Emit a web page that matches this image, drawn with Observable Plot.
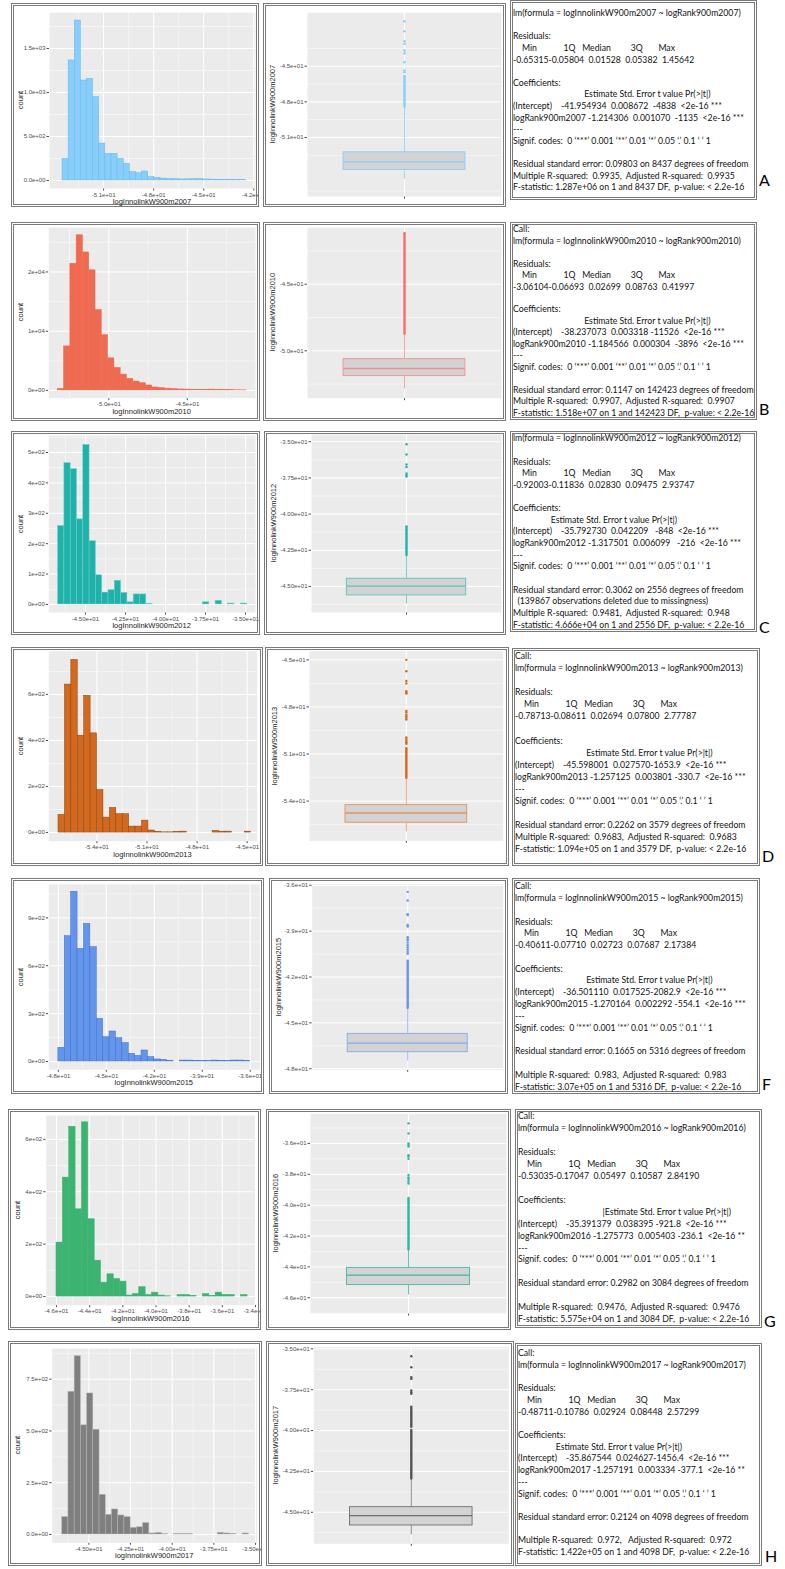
<!DOCTYPE html>
<html><head><meta charset="utf-8">
<script src="https://cdn.jsdelivr.net/npm/d3@7"></script>
<script src="https://cdn.jsdelivr.net/npm/@observablehq/plot@0.6"></script>
<style>
body{margin:0;background:#fff;}
#page{position:relative;width:785px;height:1569px;overflow:hidden;background:#fff;font-family:"Liberation Sans",Arial,sans-serif;}
.clip{position:absolute;overflow:hidden;}
.frame{position:absolute;border:3px double #7a7a7a;box-sizing:border-box;pointer-events:none;}
.reg{position:absolute;box-sizing:border-box;border:3px double #7a7a7a;}
.txt{position:absolute;left:0px;font-family:Lato,"Open Sans",sans-serif;white-space:pre;color:#111;}
.letter{position:absolute;font-family:Lato,"Open Sans",sans-serif;font-size:16px;line-height:16px;color:#000;}
.ttl{position:absolute;font-size:7.5px;color:#222;white-space:nowrap;line-height:8px;}
</style></head><body><div id="page"></div>
<script>
// ---------------- DATA ----------------
const years = ["2007", "2010", "2012", "2013", "2015", "2016", "2017"];
const panelLetters = ["A", "B", "C", "D", "F", "G", "H"];

// histogram counts (30 bins each)
const histCounts2007 = [246, 1364, 1818, 1136, 1155, 947, 420, 303, 303, 246, 190, 95, 83, 102, 38, 30, 22, 18, 15, 12, 14, 15, 18, 12, 10, 8, 6, 8, 6, 5];
const histCounts2010 = [280, 7430, 21400, 26200, 23300, 20280, 13575, 9330, 5420, 3800, 2680, 1955, 1500, 1230, 840, 500, 400, 300, 220, 170, 150, 120, 100, 90, 150, 80, 60, 40, 30, 20];
const histCounts2012 = [258, 465, 445, 280, 525, 208, 96, 39, 47, 78, 38, 7, 33, 33, 2, 0, 0, 0, 0, 0, 0, 0, 0, 7, 0, 12, 0, 3, 0, 3];
const histCounts2013 = [77, 643, 750, 421, 594, 431, 185, 65, 107, 80, 80, 26, 26, 52, 9, 3, 1, 1, 3, 4, 0, 0, 0, 0, 7, 4, 4, 0, 0, 4];
const histCounts2015 = [86, 785, 1063, 706, 862, 716, 267, 152, 188, 146, 115, 48, 35, 69, 27, 13, 10, 4, 0, 6, 6, 4, 2, 2, 6, 4, 2, 6, 6, 4];
const histCounts2016 = [206, 454, 648, 333, 665, 295, 137, 53, 85, 67, 57, 4, 10, 36, 6, 15, 4, 1, 0, 6, 6, 3, 0, 9, 3, 15, 6, 6, 0, 6];
const histCounts2017 = [84, 689, 861, 527, 681, 506, 192, 95, 121, 92, 84, 32, 35, 55, 5, 8, 2, 0, 3, 3, 3, 0, 0, 0, 0, 8, 5, 3, 0, 5];

// first bin start and last bin end (value of logInnolinkW900m)
const histBinRange2007 = [-53.46, -42.46];
const histBinRange2010 = [-53.25, -41.23];
const histBinRange2012 = [-46.71, -34.90];
const histBinRange2013 = [-56.30, -44.76];
const histBinRange2015 = [-48.00, -36.00];
const histBinRange2016 = [-46.00, -34.48];
const histBinRange2017 = [-46.60, -35.40];

// histogram axis domains and ticks
const histXDomain = [[-54.24, -41.9], [-53.82, -40.66], [-47.29, -34.375], [-56.88, -44.4], [-48.6, -35.4], [-46.62, -34.0], [-47.2, -34.9]];
const histYDomain = [[-91, 1909], [-1310, 27510], [-26.5, 556], [-37.5, 788], [-52, 1111], [-33, 691], [-40, 898]];
const histXTicks = [[-51, -48, -45, -42], [-50, -45], [-45, -42.5, -40, -37.5, -35], [-54, -51, -48, -45], [-48, -45, -42, -39, -36], [-46, -44, -42, -40, -38, -36, -34], [-45, -42.5, -40, -37.5, -35]];
const histXDigits = [1, 1, 2, 1, 1, 1, 2];
const histYTicks = [[0, 500, 1000, 1500], [0, 10000, 20000], [0, 100, 200, 300, 400, 500], [0, 200, 400, 600], [0, 300, 600, 900], [0, 200, 400, 600], [0, 250, 500, 750]];
const histYDigits = [1, 0, 0, 0, 0, 0, 1];

// boxplot stats: [lower whisker, Q1, median, Q3, upper whisker]
const boxStats2007 = [-54.53, -53.73, -53.05, -52.24, -48.45];
const boxStats2010 = [-52.88, -51.90, -51.33, -50.63, -48.75];
const boxStats2012 = [-46.20, -45.62, -44.98, -44.47, -42.86];
const boxStats2013 = [-55.95, -55.38, -54.76, -54.26, -52.55];
const boxStats2015 = [-47.50, -46.92, -46.33, -45.72, -44.05];
const boxStats2016 = [-45.83, -45.18, -44.53, -44.06, -42.90];
const boxStats2017 = [-46.38, -45.81, -45.20, -44.69, -42.96];

// individual outliers
const outliers2007 = [-45.5, -45.36, -44.66, -43.91, -43.68, -43.12, -42.9, -42.06, -41.21];
const outliers2010 = [-41.2];
const outliers2012 = [-37.4, -37.3, -37.2, -36.75, -36.57, -35.88, -35.17];
const outliers2013 = [-50.35, -50.25, -50.15, -50.05, -49.95, -48.8, -48.7, -48.6, -48.5, -48.35, -48.25, -47.15, -47.1, -47.0, -46.5, -46.35, -45.73, -45.0];
const outliers2015 = [-40.48, -40.35, -40.2, -40.05, -39.9, -39.75, -39.6, -39.5, -39.4, -38.7, -38.6, -37.95, -37.9, -37.0, -36.43];
const outliers2016 = [-38.6, -38.45, -38.3, -38.2, -38.05, -37.0, -36.85, -36.76, -36.2, -36.1, -36.0, -35.35, -34.7];
const outliers2017 = [-37.75, -37.65, -37.55, -36.84, -36.74, -36.13, -35.45];
// runs of outliers so dense that they overlap into a column: [from, to]
const denseOutliers2007 = [[-48.45, -45.85]];
const denseOutliers2010 = [[-48.75, -41.2]];
const denseOutliers2012 = [[-42.86, -40.88]];
const denseOutliers2013 = [[-52.55, -50.66]];
const denseOutliers2015 = [[-44.05, -40.97]];
const denseOutliers2016 = [[-42.9, -39.56]];
const denseOutliers2017 = [[-42.96, -40.0], [-39.8, -38.57]];

const boxYDomain = [[-55.96, -40.48], [-53.56, -40.74], [-46.8, -34.5], [-56.53, -44.45], [-48.07, -35.93], [-47.02, -34.08], [-46.93, -34.9]];
const boxYTicks = [[-51, -48, -45], [-50, -45], [-45, -42.5, -40, -37.5, -35], [-54, -51, -48, -45], [-48, -45, -42, -39, -36], [-46, -44, -42, -40, -38, -36], [-45, -42.5, -40, -37.5, -35]];
const boxYDigits = [1, 1, 2, 1, 1, 1, 2];

// regression summaries
const sig = "Signif. codes:  0 ‘***’ 0.001 ‘**’ 0.01 ‘*’ 0.05 ‘.’ 0.1 ‘ ’ 1";
const resHead = "    Min            1Q   Median         3Q       Max";
const regText2007 = ["lm(formula = logInnolinkW900m2007 ~ logRank900m2007)", "", "Residuals:", resHead, "-0.65315-0.05804  0.01528  0.05382  1.45642", "", "Coefficients:", "                                Estimate Std. Error t value Pr(>|t|)", "(Intercept)    -41.954934  0.008672  -4838  <2e-16 ***", "logRank900m2007 -1.214306  0.001070  -1135  <2e-16 ***", "---", sig, "", "Residual standard error: 0.09803 on 8437 degrees of freedom", "Multiple R-squared:  0.9935,  Adjusted R-squared:  0.9935", "F-statistic: 1.287e+06 on 1 and 8437 DF,  p-value: < 2.2e-16"];
const regText2010 = ["Call:", "lm(formula = logInnolinkW900m2010 ~ logRank900m2010)", "", "Residuals:", resHead, "-3.06104-0.06693  0.02699  0.08763  0.41997", "", "Coefficients:", "                                Estimate Std. Error t value Pr(>|t|)", "(Intercept)    -38.237073  0.003318 -11526  <2e-16 ***", "logRank900m2010 -1.184566  0.000304  -3896  <2e-16 ***", "---", sig, "", "Residual standard error: 0.1147 on 142423 degrees of freedom", "Multiple R-squared:  0.9907,  Adjusted R-squared:  0.9907", "F-statistic: 1.518e+07 on 1 and 142423 DF,  p-value: < 2.2e-16"];
const regText2012 = ["lm(formula = logInnolinkW900m2012 ~ logRank900m2012)", "", "Residuals:", resHead, "-0.92003-0.11836  0.02830  0.09475  2.93747", "", "Coefficients:", "                 Estimate Std. Error t value Pr(>|t|)", "(Intercept)    -35.792730  0.042209   -848  <2e-16 ***", "logRank900m2012 -1.317501  0.006099   -216  <2e-16 ***", "---", sig, "", "Residual standard error: 0.3062 on 2556 degrees of freedom", "  (139867 observations deleted due to missingness)", "Multiple R-squared:  0.9481,  Adjusted R-squared:  0.948", "F-statistic: 4.666e+04 on 1 and 2556 DF,  p-value: < 2.2e-16"];
const regText2013 = ["Call:", "lm(formula = logInnolinkW900m2013 ~ logRank900m2013)", "", "Residuals:", resHead, "-0.78713-0.08611  0.02694  0.07800  2.77787", "", "Coefficients:", "                                Estimate Std. Error t value Pr(>|t|)", "(Intercept)    -45.598001  0.027570-1653.9  <2e-16 ***", "logRank900m2013 -1.257125  0.003801 -330.7  <2e-16 ***", "---", sig, "", "Residual standard error: 0.2262 on 3579 degrees of freedom", "Multiple R-squared:  0.9683,  Adjusted R-squared:  0.9683", "F-statistic: 1.094e+05 on 1 and 3579 DF,  p-value: < 2.2e-16"];
const regText2015 = ["Call:", "lm(formula = logInnolinkW900m2015 ~ logRank900m2015)", "", "Residuals:", resHead, "-0.40611-0.07710  0.02723  0.07687  2.17384", "", "Coefficients:", "                                Estimate Std. Error t value Pr(>|t|)", "(Intercept)    -36.501110  0.017525-2082.9  <2e-16 ***", "logRank900m2015 -1.270164  0.002292 -554.1  <2e-16 ***", "---", sig, "", "Residual standard error: 0.1665 on 5316 degrees of freedom", "", "Multiple R-squared:  0.983,  Adjusted R-squared:  0.983", "F-statistic: 3.07e+05 on 1 and 5316 DF,  p-value: < 2.2e-16"];
const regText2016 = ["Call:", "lm(formula = logInnolinkW900m2016 ~ logRank900m2016)", "", "Residuals:", resHead, "-0.53035-0.17047  0.05497  0.10587  2.84190", "", "Coefficients:", "                                      |Estimate Std. Error t value Pr(>|t|)", "(Intercept)    -35.391379  0.038395 -921.8  <2e-16 ***", "logRank900m2016 -1.275773  0.005403 -236.1  <2e-16 **", "---", sig, "", "Residual standard error: 0.2982 on 3084 degrees of freedom", "", "Multiple R-squared:  0.9476,  Adjusted R-squared:  0.9476", "F-statistic: 5.575e+04 on 1 and 3084 DF,  p-value: < 2.2e-16"];
const regText2017 = ["Call:", "lm(formula = logInnolinkW900m2017 ~ logRank900m2017)", "", "Residuals:", resHead, "-0.48711-0.10786  0.02924  0.08448  2.57299", "", "Coefficients:", "                 Estimate Std. Error t value Pr(>|t|)", "(Intercept)    -35.867544  0.024627-1456.4  <2e-16 ***", "logRank900m2017 -1.257191  0.003334 -377.1  <2e-16 **", "---", sig, "", "Residual standard error: 0.2124 on 4098 degrees of freedom", "", "Multiple R-squared:  0.972,   Adjusted R-squared:  0.972", "F-statistic: 1.422e+05 on 1 and 4098 DF,  p-value: < 2.2e-16"];

// ---------------- STYLE / LAYOUT ----------------
const histFill   = ["#87CEFA", "#EE6A50", "#20B2AA", "#D2691E", "#6495ED", "#3CB371", "#7F7F7F"];
const histStroke = ["#6FB6E6", "#EE6A50", "#6FD0C6", "#8B4513", "#3E6FC4", "#3CB371", "#B5B5B5"];
const boxStroke  = ["#87CEFA", "#F29090", "#5CC4BA", "#E4925A", "#86A9EE", "#3FB8A8", "#6E6E6E"];
const dotColor   = ["#87CEFA", "#FF6A6A", "#20B2AA", "#D2691E", "#6495ED", "#2FB5A3", "#555555"];
const layout = [
  {hist:[11,3,259,207], hp:[49,12,255,188], box:[263,3,506,207], bp:[307,12,501,196], text:[510,0,757,200], letter:[759,172], lh:11.6, first:13},
  {hist:[11,222,260,421], hp:[48.3,227,255,397.7], box:[263,222,506,421], bp:[307,227,501,397.7], text:[510,222,757,420], letter:[759,401], lh:11.45, first:7},
  {hist:[11,431,260,635], hp:[48.3,435,255,612], box:[264,431,506,635], bp:[311,434,501,612], text:[510,431,757,632], letter:[759,619], lh:11.65, first:7},
  {hist:[11,647,263,866], hp:[48.3,650.7,256.7,840.7], box:[265,647,509,866], bp:[309,650.7,502.7,840.3], text:[512,648,760,866], letter:[762,848], lh:12.1, first:8},
  {hist:[11,878,264,1094], hp:[48.3,883.7,259.3,1069.3], box:[269,878,508,1094], bp:[311.7,883.7,502.7,1069.3], text:[512,878,760,1094], letter:[762,1076], lh:11.8, first:8},
  {hist:[8,1109,261,1330], hp:[45.7,1115,255,1304.7], box:[266,1109,511,1330], bp:[310,1113.3,506,1313], text:[515,1109,762,1328], letter:[764,1313], lh:11.95, first:7},
  {hist:[8,1341,262,1566], hp:[51.7,1348,256.7,1542.3], box:[266,1341,514,1566], bp:[313.3,1346.7,508.3,1543.3], text:[515,1343,762,1566], letter:[765,1548], lh:11.7, first:10}
];
const boxHalfWidth = 0.377;

// ---------------- BUILD ----------------
const histCounts = [histCounts2007, histCounts2010, histCounts2012, histCounts2013, histCounts2015, histCounts2016, histCounts2017];
const histBinRanges = [histBinRange2007, histBinRange2010, histBinRange2012, histBinRange2013, histBinRange2015, histBinRange2016, histBinRange2017];
const boxStats = [boxStats2007, boxStats2010, boxStats2012, boxStats2013, boxStats2015, boxStats2016, boxStats2017];
const outliers = [outliers2007, outliers2010, outliers2012, outliers2013, outliers2015, outliers2016, outliers2017];
const denseOutliers = [denseOutliers2007, denseOutliers2010, denseOutliers2012, denseOutliers2013, denseOutliers2015, denseOutliers2016, denseOutliers2017];
const regTexts = [regText2007, regText2010, regText2012, regText2013, regText2015, regText2016, regText2017];

const page = document.getElementById("page");

function sci(v, d) {
  const s = (+v).toExponential(d);
  const [m, e] = s.split("e");
  const sign = e[0] === "-" ? "-" : "+";
  return m + "e" + sign + e.replace(/[+-]/, "").padStart(2, "0");
}
function minors(ticks, domain) {
  const step = ticks.length > 1 ? ticks[1] - ticks[0] : 5;
  const out = [];
  const [a, b] = [Math.min(...domain), Math.max(...domain)];
  for (let v = ticks[0] - step / 2; v >= a; v -= step) out.push(v);
  for (let v = ticks[0] + step / 2; v <= b; v += step) out.push(v);
  return out;
}
const plotStyle = {fontFamily: "'Liberation Sans', Arial, sans-serif", fontSize: "6px", color: "#4D4D4D", background: "transparent", overflow: "visible"};

function place(el, x, y, w, h) {
  el.style.left = x + "px"; el.style.top = y + "px";
  if (w != null) el.style.width = w + "px";
  if (h != null) el.style.height = h + "px";
  page.appendChild(el);
  return el;
}
function addSvg(svg, rect) {
  const [x1, y1, x2, y2] = rect;
  const c = document.createElement("div");
  c.className = "clip";
  place(c, x1, y1, x2 - x1, y2 - y1);
  c.appendChild(svg);
  const f = document.createElement("div");
  f.className = "frame";
  place(f, x1, y1, x2 - x1, y2 - y1);
}
function title(text, cx, cy, rotate) {
  const t = document.createElement("div");
  t.className = "ttl";
  t.textContent = text;
  place(t, cx, cy);
  t.style.transform = "translate(-50%,-50%)" + (rotate ? " rotate(-90deg)" : "");
}

years.forEach((yr, i) => {
  const L = layout[i];
  // ---- histogram ----
  {
    const [bx1, by1, bx2, by2] = L.hist, [px1, py1, px2, py2] = L.hp;
    const counts = histCounts[i];
    const [b0, b1] = histBinRanges[i];
    const bw = (b1 - b0) / counts.length;
    const bins = counts.map((c, k) => ({x1: b0 + k * bw, x2: b0 + (k + 1) * bw, count: c}));
    const xt = histXTicks[i], yt = histYTicks[i];
    const svg = Plot.plot({
      width: bx2 - bx1, height: by2 - by1,
      marginLeft: px1 - bx1, marginRight: bx2 - px2, marginTop: py1 - by1, marginBottom: by2 - py2,
      style: plotStyle,
      x: {domain: histXDomain[i], ticks: xt, tickFormat: d => sci(d, histXDigits[i]), tickSize: 2.5, tickPadding: 1.5, label: null},
      y: {domain: histYDomain[i], ticks: yt, tickFormat: d => sci(d, histYDigits[i]), tickSize: 2.5, tickPadding: 1.5, label: null},
      marks: [
        Plot.frame({fill: "#EBEBEB", stroke: "none"}),
        Plot.ruleX(minors(xt, histXDomain[i]), {stroke: "#fff", strokeWidth: 0.5}),
        Plot.ruleY(minors(yt, histYDomain[i]), {stroke: "#fff", strokeWidth: 0.5}),
        Plot.ruleX(xt, {stroke: "#fff", strokeWidth: 1}),
        Plot.ruleY(yt, {stroke: "#fff", strokeWidth: 1}),
        Plot.rectY(bins, {x1: "x1", x2: "x2", y: "count", fill: histFill[i], stroke: histStroke[i], strokeWidth: 0.5, inset: 0})
      ]
    });
    addSvg(svg, L.hist);
    title("count", bx1 + 10, (py1 + py2) / 2, true);
    title("logInnolinkW900m" + yr, (px1 + px2) / 2, py2 + 14, false);
  }
  // ---- boxplot ----
  {
    const [bx1, by1, bx2, by2] = L.box, [px1, py1, px2, py2] = L.bp;
    const [lo, q1, med, q3, hi] = boxStats[i];
    const s = {lo, q1, med, q3, hi};
    const yt = boxYTicks[i];
    const hw = boxHalfWidth;
    const svg = Plot.plot({
      width: bx2 - bx1, height: by2 - by1,
      marginLeft: px1 - bx1, marginRight: bx2 - px2, marginTop: py1 - by1, marginBottom: by2 - py2,
      style: plotStyle,
      x: {domain: [-0.6, 0.6], ticks: [0], tickFormat: () => "", tickSize: 2.5, label: null},
      y: {domain: boxYDomain[i], ticks: yt, tickFormat: d => sci(d, boxYDigits[i]), tickSize: 2.5, tickPadding: 1.5, label: null},
      marks: [
        Plot.frame({fill: "#EBEBEB", stroke: "none"}),
        Plot.ruleY(minors(yt, boxYDomain[i]), {stroke: "#fff", strokeWidth: 0.5}),
        Plot.ruleY(yt, {stroke: "#fff", strokeWidth: 1}),
        Plot.ruleX([0], {stroke: "#fff", strokeWidth: 1}),
        Plot.ruleX([s], {x: 0, y1: "lo", y2: "q1", stroke: boxStroke[i], strokeWidth: 0.8}),
        Plot.ruleX([s], {x: 0, y1: "q3", y2: "hi", stroke: boxStroke[i], strokeWidth: 0.8}),
        Plot.rect([s], {x1: -hw, x2: hw, y1: "q1", y2: "q3", fill: "#D3D3D3", stroke: boxStroke[i], strokeWidth: 0.9}),
        Plot.ruleY([s], {y: "med", x1: -hw, x2: hw, stroke: boxStroke[i], strokeWidth: 1.3}),
        Plot.ruleX(denseOutliers[i], {x: 0, y1: d => d[0], y2: d => d[1], stroke: dotColor[i], strokeWidth: 2.4, strokeLinecap: "round"}),
        Plot.dot(outliers[i], {x: 0, y: d => d, r: 1.2, fill: dotColor[i], stroke: "none"})
      ]
    });
    addSvg(svg, L.box);
    title("logInnolinkW900m" + yr, bx1 + 10, (py1 + py2) / 2, true);
  }
  // ---- regression text ----
  {
    const [tx1, ty1, tx2, ty2] = L.text;
    const d = document.createElement("div");
    d.className = "reg";
    place(d, tx1, ty1, tx2 - tx1, ty2 - ty1);
    const t = document.createElement("div");
    t.className = "txt";
    t.textContent = regTexts[i].join("\n");
    t.style.lineHeight = L.lh + "px";
    t.style.top = (L.first - 3 - L.lh / 2) + "px";
    d.appendChild(t);
    const lt = document.createElement("div");
    lt.className = "letter";
    lt.textContent = panelLetters[i];
    place(lt, L.letter[0], L.letter[1]);
  }
});

// fit the text font so the longest summary line spans the box like in the original
(function fitText() {
  const probe = document.createElement("span");
  probe.style.cssText = "position:absolute;visibility:hidden;white-space:pre;font-family:Lato,'Open Sans',sans-serif;font-size:10px;";
  probe.textContent = regText2010[14];
  page.appendChild(probe);
  const w10 = probe.getBoundingClientRect().width;
  page.removeChild(probe);
  const fs = 10 * 241 / w10;
  document.querySelectorAll(".txt").forEach(el => { el.style.fontSize = fs + "px"; });
})();
</script>
</body></html>
